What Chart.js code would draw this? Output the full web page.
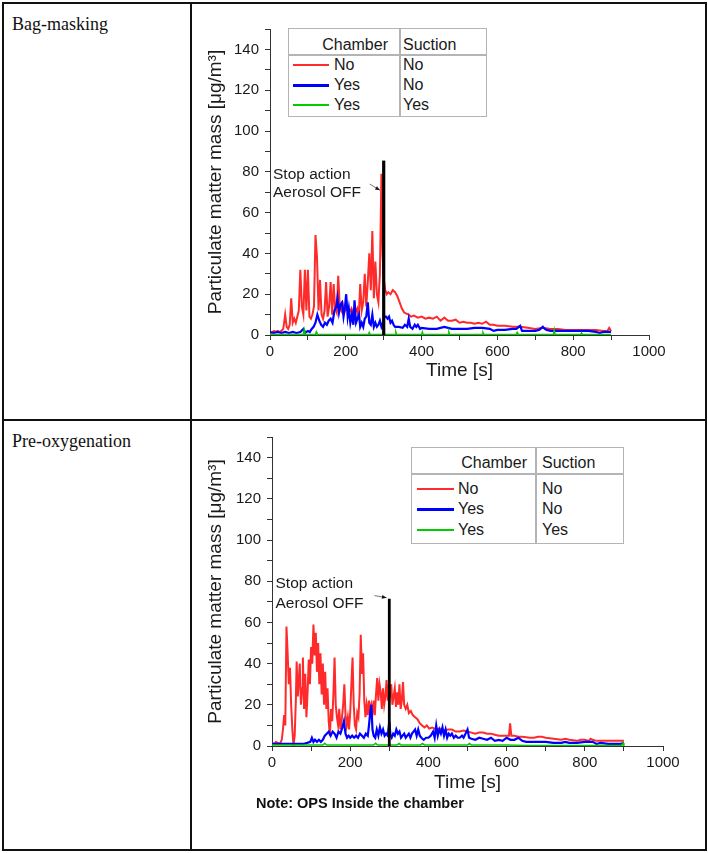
<!DOCTYPE html>
<html>
<head>
<meta charset="utf-8">
<script src="https://cdn.jsdelivr.net/npm/chart.js@4.4.0/dist/chart.umd.min.js"></script>
<style>
body{margin:0;background:#fff;}
#page{position:relative;width:708px;height:853px;font-family:'Liberation Sans',Arial,sans-serif;}
.rule{position:absolute;background:#111;}
.rowlabel{position:absolute;left:12px;font-family:'Liberation Serif','Times New Roman',serif;font-size:18px;color:#111;line-height:20px;}
canvas{position:absolute;left:192px;}
.key{position:absolute;border:1.5px solid #b4b4b4;background:#fff;font-size:16px;color:#1a1a1a;box-sizing:border-box;}
.key div{position:absolute;white-space:nowrap;}
.note{position:absolute;left:256px;top:795px;font-size:14.5px;font-weight:bold;color:#111;}
</style>
</head>
<body>
<div id="page">
  <div class="rule" style="left:2px;top:2px;width:704px;height:1.5px"></div>
  <div class="rule" style="left:2px;top:849px;width:704px;height:1.5px"></div>
  <div class="rule" style="left:2px;top:2px;width:1.5px;height:849px"></div>
  <div class="rule" style="left:705px;top:2px;width:1.5px;height:849px"></div>
  <div class="rule" style="left:190px;top:2px;width:1.5px;height:849px"></div>
  <div class="rule" style="left:2px;top:419px;width:704px;height:1.5px"></div>
  <div class="rowlabel" style="top:14px">Bag-masking</div>
  <div class="rowlabel" style="top:431px">Pre-oxygenation</div>
  <canvas id="bag" width="512" height="414" style="top:4px"></canvas>
  <canvas id="pre" width="512" height="426" style="top:422px"></canvas>
  <div class="note">Note: OPS Inside the chamber</div>
</div>
<script>
'use strict';
// legend rows
const chamber = ['No', 'Yes', 'Yes'];
const suction = ['No', 'No', 'Yes'];
const colors = ['#ff2a2a', '#0000ff', '#00cc00'];
const noteLines = ['Stop action', 'Aerosol OFF'];
const stopTime = 300;

// Bag-masking
const bagRedT = [0,5,10,15,20,25,30,35,40,44,48,52,56,60,64,68,72,76,80,84,88,92,96,100,104,108,112,116,120,124,128,132,136,140,144,148,152,156,160,164,168,172,176,180,184,188,192,196,200,205,210,215,220,225,230,234,238,242,246,250,254,258,262,266,270,274,278,282,286,290,294,297,300,304,308,312,318,324,330,336,342,348,354,360,366,372,380,390,400,410,420,430,440,450,460,470,480,490,500,510,520,530,540,550,560,570,580,590,600,620,640,660,680,700,720,740,760,780,800,820,840,860,880,890,895,900];
const bagRedV = [1,1,2,1.5,2,1.5,2,3,10,4,3,5,18,6,8,6,9,12,32,14,10,32,12,32,9,8,10,14,49,38,12,27,10,8,12,26,9,14,26,10,25,13,11,29,14,12,15,11,13,12,11,13,10,11,13,8,25,12,16,30,14,26,40,22,51,18,36,20,16,30,79,40,28,22,20,21,20,22,21,19,16,13,11,10.5,10,9,9.5,8.5,9,8,8.5,8,9,7,8.5,7,7,7.5,6,6.5,6,6,5.5,6,5.5,6.5,5,5,4.5,4.5,4,4,3.5,3,3.5,3,3,2.5,2.5,2.5,2.5,2.5,2,2,3.5,2];
const bagBlueT = [0,10,20,30,40,50,60,70,80,88,92,100,105,110,115,120,125,130,135,140,145,150,155,160,165,170,175,178,182,186,190,194,198,201,205,208,212,216,220,223,227,231,235,238,242,246,250,254,258,262,266,270,274,278,282,286,290,294,298,302,306,310,314,318,322,326,330,340,350,356,362,366,370,376,382,386,390,396,400,420,440,460,480,500,520,540,560,580,590,600,620,640,650,660,665,680,700,710,720,725,730,740,750,760,780,800,820,840,860,870,880,890,900];
const bagBlueV = [1.5,1,1.5,1,1.5,1,1.5,1,1.5,3,1,2,1.5,3,4,6,10,7,5,4,6,5,7,8,6,12,14,18,11,15,16,9,14,20,9,13,6,10,5,17,6,8,10,4,6,4,8,9,16,6,5,10,4,6,4,5,7,4,6,9,9,8,9,6,7,5,4,4,3.5,5,4,8,4,3,5,4,5,3,3.5,3,3,4,3,3,3,3.5,3.5,3,2,2.5,2.5,3,3,4.5,2,2,2,2.5,4,3,2.5,2,2,2,2,2,2,2,1.5,1,1.5,1.5,1.5];
const bagGreenT = [0,50,88,90,92,120,122,124,200,260,262,264,330,332,334,400,402,404,470,472,474,560,562,564,650,652,654,748,750,752,820,822,824,900];
const bagGreenV = [0.3,0.3,0.3,2.5,0.3,0.4,1.5,0.3,0.3,0.3,1.2,0.3,0.3,1.5,0.3,0.3,1.5,0.3,0.3,1.5,0.3,0.3,1.2,0.3,0.3,1.2,0.3,0.3,2.5,0.3,0.3,1,0.3,0.3];
const bagStopTop = 85.5;

// Pre-oxygenation
const preRedT = [0,5,10,15,20,25,28,31,34,37,40,43,46,49,52,55,58,61,63,66,68,71,74,77,79,82,85,88,91,94,97,100,103,106,109,112,115,118,121,124,127,130,133,136,139,142,145,148,151,154,157,160,163,166,169,172,175,178,182,185,188,191,194,197,200,203,206,209,212,215,218,221,224,227,230,233,236,239,242,245,248,251,254,257,260,263,266,269,272,275,278,281,284,287,290,293,296,299,302,305,308,311,314,317,320,323,326,329,332,335,338,342,346,350,355,360,366,372,378,384,390,396,402,410,420,430,440,450,460,470,480,490,500,510,520,530,540,550,560,570,580,590,600,606,609,612,620,630,640,660,670,680,690,700,720,740,750,760,780,790,800,810,815,820,830,840,860,880,900];
const preRedV = [1.5,1,2,1.5,1,3,8,15,10,58,45,30,38,20,8,0.5,5,22,41,24,30,40,20,28,43,18,35,14,26,42,30,48,40,59,44,55,36,50,30,45,25,40,20,36,18,28,12,5,18,12,25,43,20,14,10,18,8,12,20,30,15,10,14,8,16,30,43,20,10,8,16,14,25,54,35,45,22,14,20,15,22,17,20,16,22,15,25,33,22,30,26,18,28,20,24,32,22,30,25,30,20,24,28,19,26,20,30,18,22,31,20,18,20,16,17,15,14,13,11,10,9,10,8.5,9,8,8.5,7.5,8,8,7,7,7.5,7,6.5,6,6.5,6.5,6,6,5.5,5,5,5,5,11,5,5,4.5,4.5,4,4,4.5,4.5,4,3.5,3,3.5,3,2.5,3,3,2.5,3.5,3,2.5,2.5,2.5,2.5,2.5];
const preBlueT = [0,20,40,60,80,90,98,102,106,110,115,120,125,130,135,140,145,150,155,160,165,170,175,180,184,188,192,196,200,205,210,215,220,225,230,235,240,245,248,251,254,257,260,264,268,272,276,280,284,288,292,296,300,303,306,310,314,318,322,326,330,334,338,342,346,350,354,358,362,366,370,374,378,382,388,394,400,406,412,416,420,424,428,432,436,440,444,448,452,456,460,465,470,475,480,486,490,495,500,504,510,520,530,540,550,560,570,580,590,600,610,620,630,640,650,660,680,700,720,740,750,760,780,800,820,830,840,860,880,890,900];
const preBlueV = [1,1,1,1,1,1.5,2,4,2,3,2,3,2,3,5,6,7,5,7,6,4,7,6,9,12,6,4,5,4,5,4,5,4,6,5,4,6,5,10,16,20,8,5,4,8,5,9,6,8,5,6,5,12,5,4,6,5,8,6,7,4,5,6,4,5,6,4,6,7,8,5,8,5,4,3,4,4,5,7,4,10,5,8,6,9,5,8,4,6,5,6,4,5,4,4,5,4,6,8,4,3.5,3,4,3.5,3,4,2.5,3,2.5,4,3,3,4,2.5,2,2,2,2,1.5,1.5,2,1.5,1.5,2,2,1,1.5,1,1,1,1.5];
const preGreenT = [0,100,130,135,140,200,260,265,270,320,325,330,380,385,390,450,500,505,510,600,650,750,850,895,898,900];
const preGreenV = [0.5,0.5,0.5,1.3,0.5,0.5,0.5,1.3,0.5,0.5,1.2,0.5,0.5,1.2,0.5,0.5,0.5,1.2,0.5,0.5,0.3,0.3,0.3,0.3,1.5,0.3];
const preStopTop = 71.5;

const family = "'Liberation Sans', Arial, sans-serif";
const pts = (t, v) => t.map((x, i) => ({x: x, y: v[i]}));

const stopNote = {
    id: 'stopNote',
    afterDatasetsDraw(chart, args, o) {
        const {ctx, scales: {x, y}} = chart;
        ctx.save();
        ctx.font = '15.5px ' + family;
        ctx.fillStyle = '#1a1a1a';
        ctx.textBaseline = 'middle';
        noteLines.forEach((s, i) => ctx.fillText(s, x.getPixelForValue(o.tx), y.getPixelForValue(o.ty[i])));
        const x0 = x.getPixelForValue(o.arrow[0]), y0 = y.getPixelForValue(o.arrow[1]);
        const x1 = x.getPixelForValue(o.arrow[2]), y1 = y.getPixelForValue(o.arrow[3]);
        ctx.strokeStyle = '#555';
        ctx.lineWidth = 0.8;
        ctx.beginPath();
        ctx.moveTo(x0, y0);
        ctx.lineTo(x1, y1);
        ctx.stroke();
        const a = Math.atan2(y1 - y0, x1 - x0);
        ctx.fillStyle = '#111';
        ctx.beginPath();
        ctx.moveTo(x1, y1);
        ctx.lineTo(x1 - 5 * Math.cos(a - 0.4), y1 - 5 * Math.sin(a - 0.4));
        ctx.lineTo(x1 - 5 * Math.cos(a + 0.4), y1 - 5 * Math.sin(a + 0.4));
        ctx.fill();
        ctx.restore();
    }
};

const makeChart = (id, red, blue, green, stopTop, lay) => {
    new Chart(document.getElementById(id), {
        type: 'line',
        data: {
            datasets: [
                {data: red, borderColor: colors[0], borderWidth: 2, order: 4},
                {data: blue, borderColor: colors[1], borderWidth: 2.2, order: 3},
                {data: green, borderColor: colors[2], borderWidth: 1.5, order: 2},
                {data: [{x: stopTime, y: 0}, {x: stopTime, y: stopTop}], borderColor: '#000', borderWidth: lay.stopW, order: 1}
            ]
        },
        options: {
            responsive: false,
            animation: false,
            elements: {point: {radius: 0}, line: {tension: 0}},
            layout: {padding: lay.pad},
            plugins: {
                legend: {display: false},
                tooltip: {enabled: false},
                stopNote: lay.note
            },
            scales: {
                x: {
                    type: 'linear', min: 0, max: 1000,
                    afterFit: s => { s.height = 60; },
                    ticks: {stepSize: 100, autoSkip: false, maxRotation: 0, padding: 3, color: '#1a1a1a',
                        font: {size: 15, family: family}, callback: v => v % 200 === 0 ? v : ''},
                    grid: {drawOnChartArea: false, tickLength: 5, color: '#333'},
                    border: {color: '#333', width: 1},
                    title: {display: true, text: 'Time [s]', color: '#1a1a1a', font: {size: 19, family: family},
                        padding: {top: 0, bottom: lay.xTitle}}
                },
                y: {
                    min: 0, max: 150,
                    afterFit: s => { s.width = lay.yW; },
                    ticks: {stepSize: 10, autoSkip: false, padding: 6, color: '#1a1a1a',
                        font: {size: 15, family: family}, callback: v => v % 20 === 0 && v < 150 ? v : ''},
                    grid: {drawOnChartArea: false, tickLength: 5, color: '#333'},
                    border: {color: '#333', width: 1},
                    title: {display: true, text: 'Particulate matter mass [μg/m³]', color: '#1a1a1a',
                        font: {size: 19, family: family}, padding: {top: 12, bottom: 0}}
                }
            }
        },
        plugins: [stopNote]
    });
};

makeChart('bag', pts(bagRedT, bagRedV), pts(bagBlueT, bagBlueV), pts(bagGreenT, bagGreenV), bagStopTop, {
    pad: {left: 0, top: 25, right: 55, bottom: 23}, yW: 78, xTitle: 13, stopW: 3.2,
    note: {tx: 8, ty: [78.6, 69.7], arrow: [263, 74, 290, 71]}
});
makeChart('pre', pts(preRedT, preRedV), pts(preBlueT, preBlueV), pts(preGreenT, preGreenV), preStopTop, {
    pad: {left: 0, top: 10, right: 41, bottom: 42}, yW: 80, xTitle: 12, stopW: 2.8,
    note: {tx: 9, ty: [78.6, 69], arrow: [262, 73, 293, 72]}
});

// table-style legends
const makeKey = (k) => {
    const box = document.createElement('div');
    box.className = 'key';
    Object.assign(box.style, {left: k.left + 'px', top: k.top + 'px', width: k.w + 'px', height: k.h + 'px'});
    let html = '<div style="left:0;top:' + k.headH + 'px;width:100%;height:1.5px;background:#b4b4b4"></div>' +
        '<div style="left:' + k.colX + 'px;top:0;width:1.5px;height:100%;background:#b4b4b4"></div>' +
        '<div style="right:' + (k.w - k.chamberR) + 'px;top:' + (k.headY - 9) + 'px;line-height:18px">Chamber</div>' +
        '<div style="left:' + k.sucX + 'px;top:' + (k.headY - 9) + 'px;line-height:18px">Suction</div>';
    chamber.forEach((c, i) => {
        const cy = k.rowY[i];
        html += '<div style="left:' + k.lineX[0] + 'px;top:' + (cy - 1) + 'px;width:' + (k.lineX[1] - k.lineX[0]) + 'px;height:' + (i === 1 ? 3 : 2) + 'px;background:' + colors[i] + '"></div>' +
            '<div style="left:' + k.textX + 'px;top:' + (cy - 9) + 'px;line-height:18px">' + c + '</div>' +
            '<div style="left:' + k.sucX + 'px;top:' + (cy - 9) + 'px;line-height:18px">' + suction[i] + '</div>';
    });
    box.innerHTML = html;
    document.getElementById('page').appendChild(box);
};
makeKey({left: 288, top: 28, w: 199, h: 89, headH: 25, colX: 110, headY: 16, chamberR: 101, sucX: 114,
    rowY: [36, 56, 76], lineX: [4, 40], textX: 45});
makeKey({left: 411, top: 447, w: 213, h: 97, headH: 25, colX: 123, headY: 15, chamberR: 117, sucX: 130,
    rowY: [41, 61, 82], lineX: [5, 42], textX: 46});
</script>
</body>
</html>
